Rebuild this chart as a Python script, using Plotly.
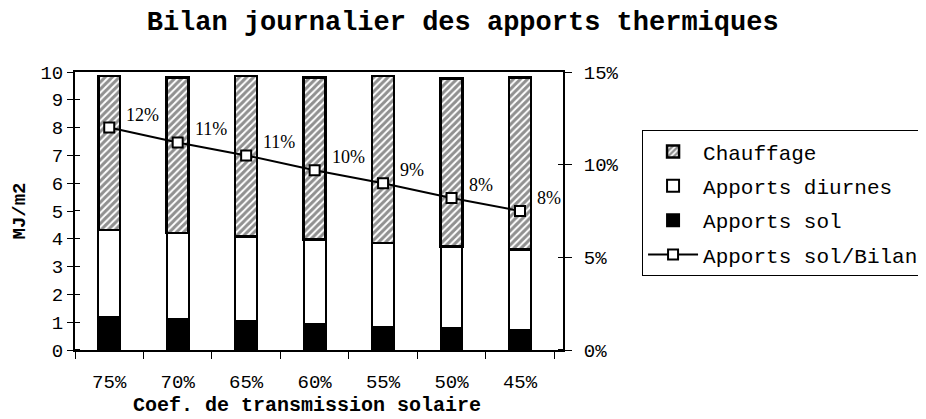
import plotly.graph_objects as go

categories = ["75%", "70%", "65%", "60%", "55%", "50%", "45%"]
apports_sol = [1.17, 1.11, 1.05, 0.93, 0.84, 0.80, 0.73]
apports_diurnes = [3.15, 3.09, 3.04, 3.04, 3.01, 2.93, 2.88]
chauffage = [5.54, 5.61, 5.77, 5.83, 6.01, 6.04, 6.20]
ratio_sol_bilan = [12.0, 11.2, 10.5, 9.7, 9.0, 8.2, 7.5]
ratio_labels = ["12%", "11%", "11%", "10%", "9%", "8%", "8%"]
left_ticks = list(range(0, 11))
right_ticks = [0, 5, 10, 15]
right_ticklabels = ["0%", "5%", "10%", "15%"]

MONO = "Liberation Mono, Courier New, monospace"
SERIF = "Liberation Serif, Times New Roman, serif"

# page has an 8px body margin: figure coords = page coords - 8
fig = go.Figure()

fig.add_trace(go.Bar(
    x=categories, y=apports_sol, name="Apports sol",
    marker=dict(color="black", line=dict(color="black", width=2)),
    legendgroup="c", legendrank=3,
))
fig.add_trace(go.Bar(
    x=categories, y=apports_diurnes, name="Apports diurnes",
    marker=dict(color="white", line=dict(color="black", width=2)),
    legendgroup="b", legendrank=2,
))
fig.add_trace(go.Bar(
    x=categories, y=chauffage, name="Chauffage",
    marker=dict(color="white", line=dict(color="black", width=2.5),
                pattern=dict(shape="/", fgcolor="#222222", bgcolor="white",
                             size=5, solidity=0.6)),
    legendgroup="a", legendrank=1,
))
fig.add_trace(go.Scatter(
    x=categories, y=ratio_sol_bilan, name="Apports sol/Bilan", yaxis="y2",
    mode="lines+markers",
    line=dict(color="black", width=2),
    marker=dict(symbol="square", size=10, color="white",
                line=dict(color="black", width=2)),
    legendgroup="d", legendrank=4,
))

for cat, val, lab in zip(categories, ratio_sol_bilan, ratio_labels):
    fig.add_annotation(
        x=cat, y=val, xref="x", yref="y2", text=lab, showarrow=False,
        xanchor="left", yanchor="middle", xshift=15, yshift=13,
        font=dict(family=SERIF, size=18, color="black"),
    )

fig.add_annotation(
    x=0.475, y=0, xref="paper", yref="paper", yshift=-55,
    xanchor="center", yanchor="middle", showarrow=False,
    text="<b>Coef. de transmission solaire</b>",
    font=dict(family=MONO, size=20, color="black"),
)

fig.update_layout(
    width=926, height=419,
    margin=dict(l=67, r=371, t=64, b=77, autoexpand=False),
    paper_bgcolor="white", plot_bgcolor="white",
    barmode="stack", bargap=0.68,
    font=dict(family=MONO, size=18, color="black"),
    title=dict(text="<b>Bilan journalier des apports thermiques</b>",
               x=0.491, xref="container", xanchor="center",
               y=1 - 13 / 419, yref="container", yanchor="middle",
               font=dict(family=MONO, size=27, color="black")),
    showlegend=True,
    legend=dict(
        x=1.162, y=0.79, xref="paper", yref="paper",
        xanchor="left", yanchor="top",
        bordercolor="black", borderwidth=1, bgcolor="white",
        traceorder="grouped", tracegroupgap=4,
        itemwidth=50,
        font=dict(family=MONO, size=21, color="black"),
    ),
    xaxis=dict(
        type="category", tickson="boundaries",
        showline=True, linecolor="black", linewidth=2, mirror=True,
        ticks="outside", ticklen=7, tickcolor="black", tickwidth=1,
        ticklabelstandoff=13,
        tickfont=dict(family=MONO, size=19),
        showgrid=False, zeroline=False, automargin=False,
    ),
    yaxis=dict(
        range=[0, 10], tickvals=left_ticks,
        showline=True, linecolor="black", linewidth=2,
        ticks="outside", ticklen=6, tickcolor="black", tickwidth=1,
        tickfont=dict(family=MONO, size=19),
        minor=dict(tickvals=[v + 0.002 for v in left_ticks], ticks="inside",
                   ticklen=5, tickcolor="black", tickwidth=1, showgrid=False),
        showgrid=False, zeroline=False, automargin=False,
        title=dict(text="<b>MJ/m2</b>", font=dict(family=MONO, size=19),
                   standoff=10),
    ),
    yaxis2=dict(
        range=[0, 15], overlaying="y", side="right",
        tickvals=right_ticks, ticktext=right_ticklabels,
        showline=True, linecolor="black", linewidth=2,
        ticks="outside", ticklen=7, tickcolor="black", tickwidth=1,
        minor=dict(tickvals=[v + 0.003 for v in right_ticks], ticks="inside",
                   ticklen=5, tickcolor="black", tickwidth=1, showgrid=False),
        ticklabelstandoff=8,
        tickfont=dict(family=MONO, size=19),
        showgrid=False, zeroline=False, automargin=False,
    ),
)

fig.write_html("out.html")
